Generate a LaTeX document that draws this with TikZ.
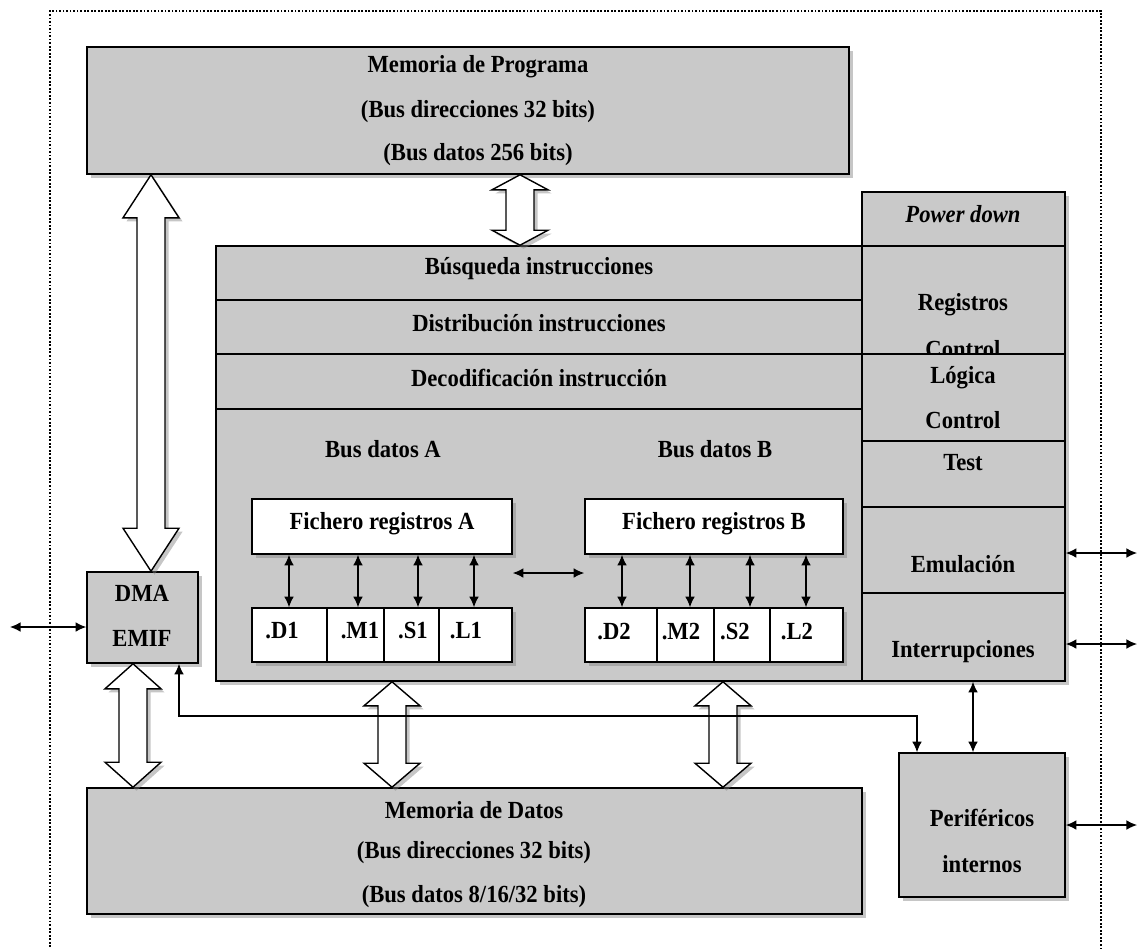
\documentclass[tikz,border=0pt]{standalone}
\usepackage{fontspec}
\setmainfont{Liberation Serif}[FakeStretch=0.92]
\usetikzlibrary{arrows.meta,fit,shadows}
\definecolor{boxgray}{RGB}{201,201,201}
\tikzset{
	softshadow/.style = {drop shadow={shadow xshift=2pt, shadow yshift=-2pt, opacity=0.45}},
	block/.style = {draw=black, line width=0.9pt, fill=boxgray, inner sep=0pt, softshadow},
	regbox/.style = {block, fill=white},
	row/.style = {draw=black, line width=0.9pt, inner sep=0pt},
	txt/.style = {inner sep=0pt, font=\fontsize{14}{16}\selectfont\bfseries},
	link/.style = {line width=0.7pt, {Latex[length=6pt,width=5.5pt]}-{Latex[length=6pt,width=5.5pt]}},
	bus/.style = {draw=black, line width=0.8pt, fill=white, softshadow, line join=miter},
	frame/.style = {draw=black, densely dotted, line width=1pt, inner sep=0pt}
}
% white double arrow for the wide buses: top tip, bottom tip, head length
\newcommand{\busarrow}[3]{%
	\draw[bus] (#1) -- ++(28,#3) -- ++(-14,0) -- ([shift={(14,-#3)}]#2) -- ++(14,0) -- (#2)
		-- ++(-28,-#3) -- ++(14,0) -- ([shift={(-14,#3)}]#1) -- ++(-14,0) -- cycle;}

\begin{document}
\begin{tikzpicture}[x=0.02cm, y=-0.02cm]
	\useasboundingbox (0,0) rectangle (1137,948);
	\node [frame, fit={(50,11)(1101,970)}] (chip) {};

	% memoria de programa
	\node [block, fit={(87,47)(849,174)}] (progmem) {};
	\node [txt] (pmt1) at (478,67) {Memoria de Programa};
	\node [txt] (pmt2) at (478,112) {(Bus direcciones 32 bits)};
	\node [txt] (pmt3) at (478,155) {(Bus datos 256 bits)};

	% nucleo
	\node [block, fit={(216,246)(862,681)}] (cpu) {};
	\node [row, fit={(216,246)(862,300)}] (fetch) {};
	\node [row, fit={(216,300)(862,354)}] (dispatch) {};
	\node [row, fit={(216,354)(862,409)}] (decode) {};
	\node [txt] (fetcht) at (539,269) {Búsqueda instrucciones};
	\node [txt] (dispatcht) at (539,323) {Distribución instrucciones};
	\node [txt] (decodet) at (539,378) {Decodificación instrucción};
	\node [txt] (busa) at (383,449) {Bus datos A};
	\node [txt] (busb) at (715,449) {Bus datos B};

	% camino A
	\node [regbox, fit={(252,499)(512,554)}] (rfa) {};
	\node [txt] (rfat) at (382,524) {Fichero registros A};
	\node [regbox, fit={(252,608)(327,662)}] (d1) {};
	\node [regbox, fit={(327,608)(384,662)}] (m1) {};
	\node [regbox, fit={(384,608)(439,662)}] (s1) {};
	\node [regbox, fit={(439,608)(512,662)}] (l1) {};
	\node [txt] (d1t) at (282,631) {.D1};
	\node [txt] (m1t) at (360,631) {.M1};
	\node [txt] (s1t) at (413,631) {.S1};
	\node [txt] (l1t) at (466,631) {.L1};

	% camino B
	\node [regbox, fit={(585,499)(843,554)}] (rfb) {};
	\node [txt] (rfbt) at (714,524) {Fichero registros B};
	\node [regbox, fit={(585,608)(657,662)}] (d2) {};
	\node [regbox, fit={(657,608)(714,662)}] (m2) {};
	\node [regbox, fit={(714,608)(770,662)}] (s2) {};
	\node [regbox, fit={(770,608)(843,662)}] (l2) {};
	\node [txt] (d2t) at (614,632) {.D2};
	\node [txt] (m2t) at (681,632) {.M2};
	\node [txt] (s2t) at (735,632) {.S2};
	\node [txt] (l2t) at (797,632) {.L2};

	\draw [link] (rfa.south -| 289,0) -- (d1.north -| 289,0);
	\draw [link] (rfa.south -| 358,0) -- (m1.north -| 358,0);
	\draw [link] (rfa.south -| 418,0) -- (s1.north -| 418,0);
	\draw [link] (rfa.south -| 474,0) -- (l1.north -| 474,0);
	\draw [link] (rfb.south -| 622,0) -- (d2.north -| 622,0);
	\draw [link] (rfb.south -| 690,0) -- (m2.north -| 690,0);
	\draw [link] (rfb.south -| 750,0) -- (s2.north -| 750,0);
	\draw [link] (rfb.south -| 806,0) -- (l2.north -| 806,0);
	\draw [link] (rfa.east |- 0,573) -- (rfb.west |- 0,573);

	% columna de control
	\node [block, fit={(862,192)(1065,246)}] (pwr) {};
	\node [txt, font=\fontsize{14}{16}\selectfont\bfseries\itshape] (pwrt) at (963,214) {Power down};
	\node [block, fit={(862,246)(1065,354)}] (ctrlreg) {};
	\node [txt] (ctrlregt1) at (963,305) {Registros};
	\node [txt, anchor=base] (ctrlregt2) at (963,357) {Control};
	\node [block, fit={(862,354)(1065,441)}] (ctrllog) {};
	\node [txt] (ctrllogt1) at (963,378) {Lógica};
	\node [txt] (ctrllogt2) at (963,420) {Control};
	\node [block, fit={(862,441)(1065,507)}] (test) {};
	\node [txt] (testt) at (963,463) {Test};
	\node [block, fit={(862,507)(1065,593)}] (emu) {};
	\node [txt] (emut) at (963,564) {Emulación};
	\node [block, fit={(862,593)(1065,681)}] (irq) {};
	\node [txt] (irqt) at (963,652) {Interrupciones};

	% DMA y perifericos
	\node [block, fit={(87,572)(198,663)}] (dma) {};
	\node [txt] (dmat1) at (142,593) {DMA};
	\node [txt] (dmat2) at (142,638) {EMIF};
	\node [block, fit={(899,753)(1065,897)}] (per) {};
	\node [txt] (pert1) at (982,818) {Periféricos};
	\node [txt] (pert2) at (982,864) {internos};

	% memoria de datos
	\node [block, fit={(87,788)(862,914)}] (datamem) {};
	\node [txt] (dmt1) at (474,810) {Memoria de Datos};
	\node [txt] (dmt2) at (474,853) {(Bus direcciones 32 bits)};
	\node [txt] (dmt3) at (474,897) {(Bus datos 8/16/32 bits)};

	% buses anchos
	\coordinate (pb1) at (progmem.south -| 151,0);
	\coordinate (pb2) at (dma.north -| 151,0);
	\coordinate (ib1) at (progmem.south -| 520,0);
	\coordinate (ib2) at (fetch.north -| 520,0);
	\coordinate (db1) at (dma.south -| 133,0);
	\coordinate (db2) at (datamem.north -| 133,0);
	\coordinate (ab1) at (cpu.south -| 392,0);
	\coordinate (ab2) at (datamem.north -| 392,0);
	\coordinate (bb1) at (cpu.south -| 723,0);
	\coordinate (bb2) at (datamem.north -| 723,0);
	\busarrow{pb1}{pb2}{43}
	\busarrow{ib1}{ib2}{15}
	\busarrow{db1}{db2}{25}
	\busarrow{ab1}{ab2}{24}
	\busarrow{bb1}{bb2}{24}

	% conexiones externas
	\coordinate (extl) at (10,627);
	\coordinate (exte) at (1137,553);
	\coordinate (exti) at (1137,644);
	\coordinate (extp) at (1137,825);
	\coordinate (dmabus) at (179,716);
	\draw [link] (extl) -- (dma.west |- extl);
	\draw [link] (emu.east |- exte) -- (exte);
	\draw [link] (irq.east |- exti) -- (exti);
	\draw [link] (per.east |- extp) -- (extp);
	\draw [link] (dma.south -| dmabus) -- (dmabus) -| (per.north -| 917,0);
	\draw [link] (irq.south -| 973,0) -- (per.north -| 973,0);
\end{tikzpicture}
\end{document}
